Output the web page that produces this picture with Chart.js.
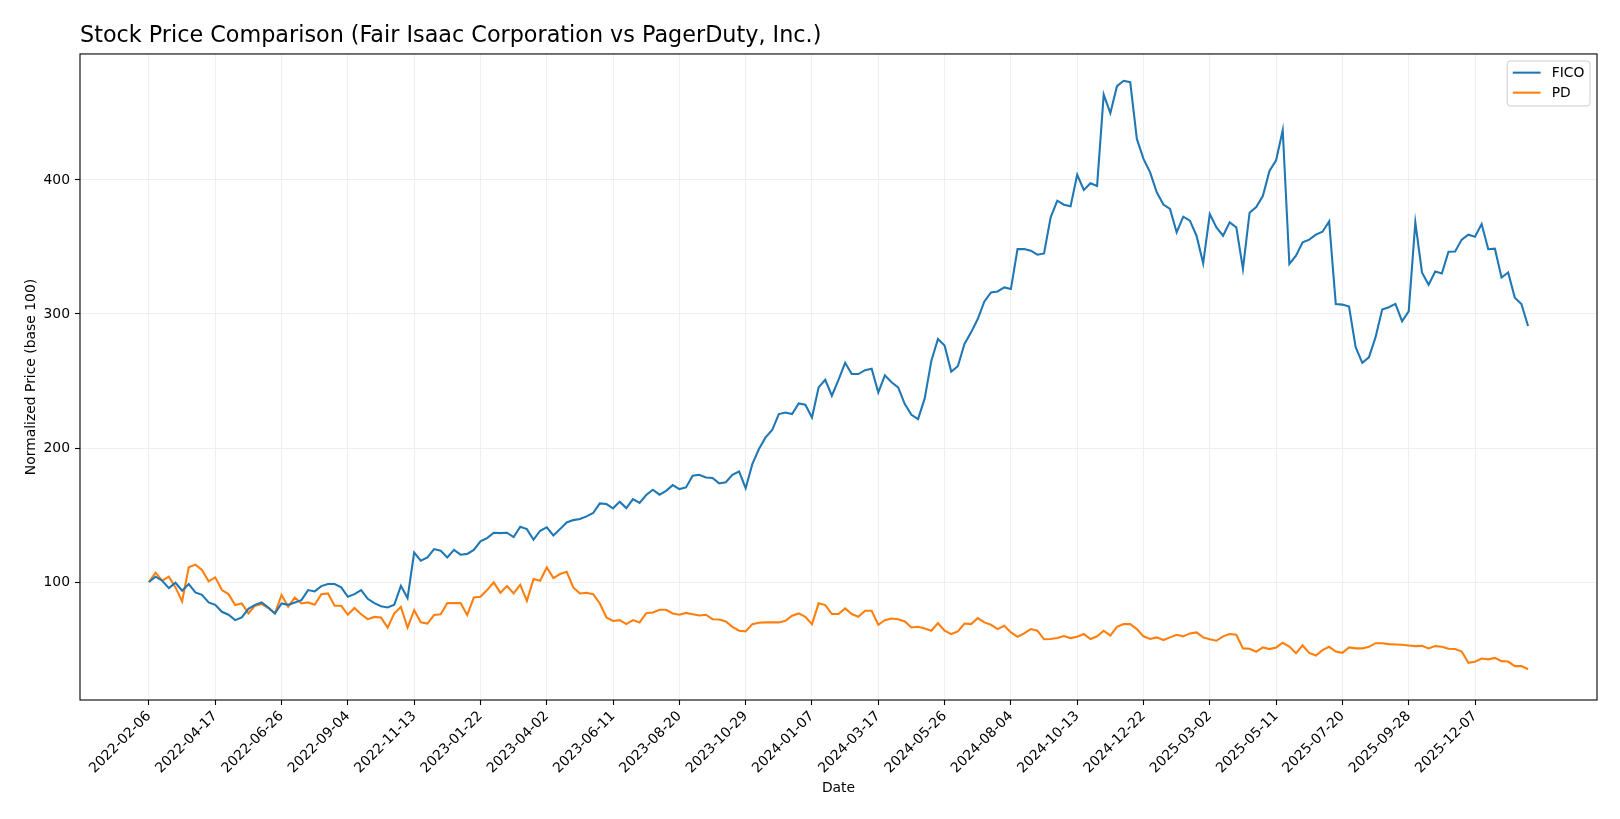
<!DOCTYPE html>
<html>
<head>
<meta charset="utf-8">
<script src="https://cdn.jsdelivr.net/npm/chart.js@4.4.1/dist/chart.umd.min.js"></script>
<style>
html,body{margin:0;padding:0;background:#ffffff;overflow:hidden}
#wrap{width:1620px;height:819px;position:relative}
</style>
</head>
<body>
<div id="wrap"><canvas id="c" width="1620" height="819"></canvas></div>
<script>
// ---- data (weekly closes, normalized to base 100; week index 0 = 2022-02-06) ----
const seriesNames = ['FICO', 'PD'];
const seriesColors = ['#1f77b4', '#ff7f0e'];

const tickWeeks = [0,10,20,30,40,50,60,70,80,90,100,110,120,130,140,150,160,170,180,190,200];
const tickLabels = ['2022-02-06','2022-04-17','2022-06-26','2022-09-04','2022-11-13','2023-01-22',
  '2023-04-02','2023-06-11','2023-08-20','2023-10-29','2024-01-07','2024-03-17','2024-05-26',
  '2024-08-04','2024-10-13','2024-12-22','2025-03-02','2025-05-11','2025-07-20','2025-09-28','2025-12-07'];

const yTicks = [100, 200, 300, 400];

const fico = [
  100,104,101,95.5,99.5,93.5,98.5,92.3,90.5,84.8,
  83,77.8,75.6,71.6,73.6,80,83,84.8,81,76.6,
  84,83,84.8,86.5,94,93,97,98.5,98.5,96,
  89,91,94,87.5,84.3,82,81,83,97.2,88,
  122,116,118.4,124.6,123.4,118.4,124,120.4,121,124,
  130.3,132.8,136.8,136.5,136.8,133.5,141.3,139.5,131.6,138.3,
  140.8,134.8,139.5,144.5,146.2,147,149,151.5,158.7,158.2,
  155,160,155.2,161.9,159,164.9,168.9,165.2,168.1,172.3,
  169.4,170.6,179.3,180,178,177.6,173.6,174.5,180,182.5,
  170,188,199.2,207.9,213.4,225.3,226.5,225.3,233.3,232.3,
  222.8,245.2,250.9,239,250.9,263.6,255.2,255.2,258.1,259.1,
  241.5,254.2,249,245.2,232.8,224.8,221.6,237,265,281.3,
  276.4,257,261,277.6,286.3,296.2,309.4,316.1,316.8,319.8,
  318.6,348.4,348.4,347.2,344.2,345.2,372.1,384.5,381.5,380.3,
  403.9,392.5,397.5,395.5,463.7,449.8,470,474,473,430.6,
  415.7,405.7,390.8,381.6,378.4,360.9,372.6,369.6,358.4,337.8,
  374.6,364.6,358.4,368.4,364.6,333.6,375.6,379.8,388,406.7,
  414.7,437.1,337.3,343.5,353.5,355.5,359.2,361.4,369.1,307.5,
  307,305.5,275.2,263.5,267.7,282.7,303.3,305,307.5,294.6,
  302,368.4,331,321.8,331.7,330.2,346.4,346.6,355.5,359.2,
  357.7,367.1,348.3,348.7,327.2,331,312.2,307.4,291
];

const pd = [
  100,107,101,104,96,85.6,111,113,109,100.5,
  103.5,94,91,82.8,84,76.6,82.4,83.6,80.6,76.6,
  90.4,81.6,88.5,84,84.8,83,91,91.5,82.3,82.3,
  75.6,80.6,76,72.3,74,73.5,66,76.6,81.5,66,
  79,70,69,75.4,75.9,84.3,84.3,84.3,75.4,88.5,
  89,94,99.8,92,97,91.5,98,86,102.2,101,
  110.9,103,106,107.7,96,91.5,92,91,84,73.6,
  71,71.6,68.6,71.6,69.9,76.8,77.3,79.3,79.3,76.6,
  75.6,77,76,75,75.6,72.3,72,70.6,66.6,63.7,
  63.2,68.6,69.6,69.9,69.9,69.9,71.1,74.9,76.6,74.1,
  68.6,84.1,82.8,76.1,76.1,80.3,76.1,74.1,78.6,78.6,
  68.1,71.6,72.8,72.3,70.6,66.1,66.6,65.4,63.7,69.4,
  63.7,61.2,63.2,69.1,68.6,73.1,69.9,68.1,64.9,67.4,
  62.4,59.2,61.7,64.9,63.7,57.3,57.5,58.2,59.7,58.2,
  59.2,61.2,57.5,59.5,63.7,60,66.6,68.6,68.6,64.9,
  59.5,57.5,58.7,56.7,58.7,60.7,59.5,61.7,62.4,58.7,
  57.3,56.2,59.5,61.2,60.7,50.5,50.2,48,51.2,50,
  51.2,54.7,51.9,46.9,52.7,47.1,45.2,49.2,51.7,48.2,
  47.2,51.2,50.5,50.5,51.7,54.4,54.4,53.7,53.4,53.2,
  52.7,52.2,52.4,50.5,52.2,51.7,50.2,50,48.2,39.7,
  40.5,42.9,42.3,43.4,41,40.7,37.3,37.3,34.9
];

// ---- chart ----
const FONT = 'DejaVu Sans';
Chart.defaults.font.family = FONT;
Chart.defaults.color = '#000000';

const toPoints = arr => arr.map((v, i) => ({x: i, y: v}));

const framePlugin = {
  id: 'frame',
  afterDatasetsDraw(chart) {
    const a = chart.chartArea, ctx = chart.ctx;
    ctx.save();
    ctx.strokeStyle = '#000000';
    ctx.lineWidth = 1.1;
    ctx.strokeRect(a.left, a.top, a.right - a.left, a.bottom - a.top);
    ctx.restore();
  }
};

const legendPlugin = {
  id: 'mplLegend',
  afterDraw(chart) {
    const a = chart.chartArea, ctx = chart.ctx;
    const fs = 13.9;
    ctx.save();
    ctx.font = fs + 'px "' + FONT + '"';
    let maxW = 0;
    chart.data.datasets.forEach(ds => { maxW = Math.max(maxW, ctx.measureText(ds.label).width); });
    const pad = 0.4 * fs, handle = 2 * fs, gap = 0.8 * fs;
    const w = pad + handle + gap + maxW + pad;
    const rowH = 20;
    const h = 45;
    const right = a.right - 7;
    const left = right - w;
    const top = a.top + 7;
    const r = 3;
    ctx.beginPath();
    ctx.moveTo(left + r, top);
    ctx.lineTo(left + w - r, top);
    ctx.quadraticCurveTo(left + w, top, left + w, top + r);
    ctx.lineTo(left + w, top + h - r);
    ctx.quadraticCurveTo(left + w, top + h, left + w - r, top + h);
    ctx.lineTo(left + r, top + h);
    ctx.quadraticCurveTo(left, top + h, left, top + h - r);
    ctx.lineTo(left, top + r);
    ctx.quadraticCurveTo(left, top, left + r, top);
    ctx.closePath();
    ctx.fillStyle = 'rgba(255,255,255,0.8)';
    ctx.fill();
    ctx.strokeStyle = '#cccccc';
    ctx.lineWidth = 1;
    ctx.stroke();
    chart.data.datasets.forEach((ds, k) => {
      const y = top + 11.7 + k * rowH;
      ctx.beginPath();
      ctx.strokeStyle = ds.borderColor;
      ctx.lineWidth = 2.08;
      ctx.moveTo(left + pad, y);
      ctx.lineTo(left + pad + handle, y);
      ctx.stroke();
      ctx.fillStyle = '#000000';
      ctx.textBaseline = 'middle';
      ctx.textAlign = 'left';
      ctx.fillText(ds.label, left + pad + handle + gap, y + 0.5);
    });
    ctx.restore();
  }
};

new Chart(document.getElementById('c'), {
  type: 'line',
  data: {
    datasets: [
      {label: seriesNames[0], data: toPoints(fico), borderColor: seriesColors[0], backgroundColor: seriesColors[0],
       borderWidth: 2.08, pointRadius: 0, tension: 0, fill: false},
      {label: seriesNames[1], data: toPoints(pd), borderColor: seriesColors[1], backgroundColor: seriesColors[1],
       borderWidth: 2.08, pointRadius: 0, tension: 0, fill: false}
    ]
  },
  options: {
    responsive: false,
    animation: false,
    devicePixelRatio: 1,
    layout: {padding: {left: 0, right: 23, top: 0, bottom: 0}},
    plugins: {
      legend: {display: false},
      tooltip: {enabled: false},
      title: {
        display: true,
        text: 'Stock Price Comparison (Fair Isaac Corporation vs PagerDuty, Inc.)',
        align: 'start',
        fullSize: false,
        color: '#000000',
        font: {family: FONT, size: 22.3, weight: 'normal'},
        padding: {top: 23, bottom: 4.2}
      }
    },
    scales: {
      x: {
        type: 'linear',
        min: -10.4,
        max: 218.4,
        afterBuildTicks(scale) { scale.ticks = tickWeeks.map(v => ({value: v})); },
        afterFit(scale) { scale.height = 119; },
        grid: {color: '#efefef', lineWidth: 1, tickColor: '#000000', tickLength: 5, tickWidth: 1.1, drawTicks: true},
        border: {display: false},
        ticks: {
          autoSkip: false,
          minRotation: 45,
          maxRotation: 45,
          padding: 3,
          color: '#000000',
          font: {family: FONT, size: 13.9},
          callback(value, index) { return tickLabels[index]; }
        },
        title: {display: true, text: 'Date', color: '#000000', font: {family: FONT, size: 13.9}, padding: {top: 0, bottom: 22.5}}
      },
      y: {
        type: 'linear',
        min: 12,
        max: 494,
        afterBuildTicks(scale) { scale.ticks = yTicks.map(v => ({value: v})); },
        afterFit(scale) { scale.width = 80; },
        grid: {color: '#efefef', lineWidth: 1, tickColor: '#000000', tickLength: 5, tickWidth: 1.1, drawTicks: true},
        border: {display: false},
        ticks: {
          padding: 5,
          color: '#000000',
          font: {family: FONT, size: 13.9},
          callback(value) { return String(value); }
        },
        title: {display: true, text: 'Normalized Price (base 100)', color: '#000000', font: {family: FONT, size: 13.9}, padding: {top: 22.7, bottom: 0}}
      }
    }
  },
  plugins: [framePlugin, legendPlugin]
});
</script>
</body>
</html>
